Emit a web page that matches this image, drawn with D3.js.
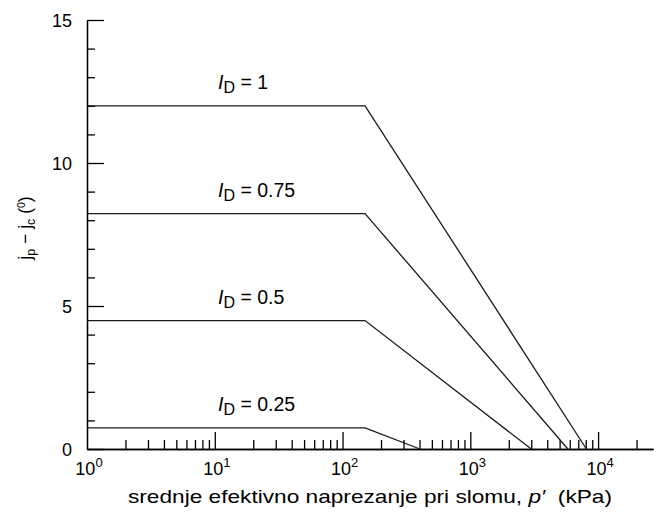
<!DOCTYPE html>
<html><head><meta charset="utf-8">
<script src="https://cdn.jsdelivr.net/npm/d3@7"></script>
<style>
body{margin:0;background:#fff}
svg text{font-family:"Liberation Sans",Arial,sans-serif;fill:#000}
</style>
</head><body><svg id="c" width="654" height="512"></svg>
<script>
// ---- data ----
const densityLabels = ["1", "0.75", "0.5", "0.25"];
const plateauAngle = [12, 8.23, 4.49, 0.74];     // jp - jc plateau (deg)
const pStart = [1, 1, 1, 1];                       // kPa
const pBreak = [150, 150, 150, 150];               // kPa, end of plateau
const pZero = [8100, 5800, 3000, 403];             // kPa, where line reaches 0
const xMajorTicks = [1, 10, 100, 1000, 10000];
const xTickExponents = ["0", "1", "2", "3", "4"];
const yMajorTicks = [0, 5, 10, 15];
const yTickLabels = ["0", "5", "10", "15"];
const xDomain = [1, 26900];
const yDomain = [0, 15];
const labelAnchorP = 10.6;

const svg = d3.select("#c");
const x = d3.scaleLog().domain(xDomain).range([87, 653]);
const y = d3.scaleLinear().domain(yDomain).range([449, 20]);
const FS = 18;

// x axis
const minorX = x.ticks().filter(v => Math.abs(Math.log10(v) - Math.round(Math.log10(v))) > 1e-6);
svg.append("g").attr("transform", `translate(0,${y(0)})`)
  .call(d3.axisBottom(x).tickValues(minorX).tickSize(-9).tickSizeOuter(0).tickFormat(""));
svg.append("g").attr("transform", `translate(0,${y(0)})`)
  .call(d3.axisBottom(x).tickValues(xMajorTicks.slice(1)).tickSize(-17).tickSizeOuter(0).tickFormat(""));

// y axis
const minorY = d3.range(yDomain[0], yDomain[1] + 1).filter(v => !yMajorTicks.includes(v));
svg.append("g").attr("transform", `translate(${x(1)},0)`)
  .call(d3.axisLeft(y).tickValues(minorY).tickSize(-8).tickSizeOuter(0).tickFormat(""));
const gyMajor = svg.append("g").attr("transform", `translate(${x(1)},0)`)
  .call(d3.axisLeft(y).tickValues(yMajorTicks).tickSize(-17).tickSizeOuter(0).tickPadding(15)
    .tickFormat((d, i) => yTickLabels[i]));
gyMajor.selectAll("text").attr("font-size", FS).attr("font-family", null).attr("dy", "0.36em");

svg.selectAll(".domain, .tick line").attr("stroke", "#000").attr("stroke-width", 1.3);

// x tick labels 10^n
xMajorTicks.forEach((v, i) => {
  const t = svg.append("text").attr("x", x(v) + 2).attr("y", 475)
    .attr("text-anchor", "middle").attr("font-size", FS);
  t.append("tspan").text("10");
  t.append("tspan").attr("font-size", 13).attr("dy", -8).text(xTickExponents[i]);
});

// lines
const line = d3.line().x(d => x(d[0])).y(d => y(d[1]));
densityLabels.forEach((lab, i) => {
  svg.append("path")
    .attr("d", line([[pStart[i], plateauAngle[i]], [pBreak[i], plateauAngle[i]], [pZero[i], 0]]))
    .attr("fill", "none").attr("stroke", "#1a1a1a").attr("stroke-width", 1.3);
  const t = svg.append("text").attr("x", x(labelAnchorP)).attr("y", y(plateauAngle[i]) - 17)
    .attr("font-size", 19.5);
  t.append("tspan").attr("font-style", "italic").text("I");
  t.append("tspan").attr("font-size", 16).attr("dy", 4).text("D");
  t.append("tspan").attr("dy", -4).text(" = " + lab);
});

// axis titles
const xt = svg.append("text").attr("x", 370).attr("y", 503).attr("text-anchor", "middle")
  .attr("font-size", 19).attr("textLength", 484).attr("lengthAdjust", "spacingAndGlyphs");
xt.append("tspan").text("srednje efektivno naprezanje pri slomu, ");
xt.append("tspan").attr("font-style", "italic").text("p′");
xt.append("tspan").text("\u00a0 (kPa)");

const yt = svg.append("text").attr("transform", "translate(31,228) rotate(-90)")
  .attr("text-anchor", "middle").attr("font-size", 17.5);
yt.append("tspan").text("j");
yt.append("tspan").attr("font-size", 12.5).attr("dy", 4).text("p");
yt.append("tspan").attr("dy", -4).text(" \u2212 j");
yt.append("tspan").attr("font-size", 12.5).attr("dy", 4).text("c");
yt.append("tspan").attr("dy", -4).text(" (");
yt.append("tspan").attr("font-size", 10.5).attr("dy", -6).text("0");
yt.append("tspan").attr("dy", 6).text(")");
</script>
</body></html>
